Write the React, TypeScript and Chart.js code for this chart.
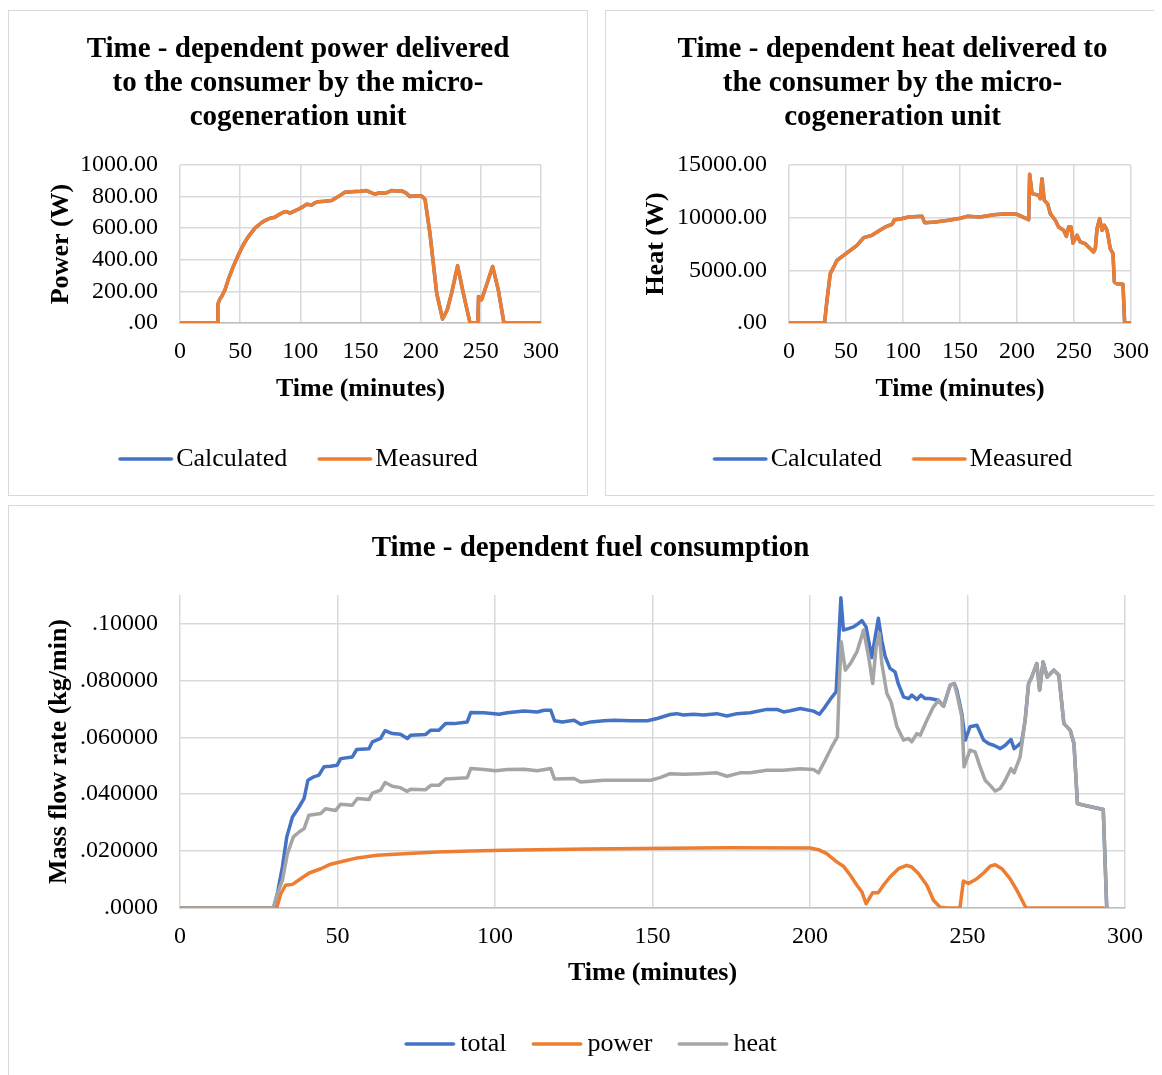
import React, { useEffect, useRef } from 'react';
import { Chart, registerables } from 'chart.js';

Chart.register(...registerables);

const SERIF = '"Liberation Serif", "Times New Roman", Times, serif';
const BLUE = '#4472C4';
const ORANGE = '#ED7D31';
const GRAY = '#A5A5A5';
const GRID = '#d9d9d9';

// ---------------- data ----------------
const powerYLabels = ['.00', '200.00', '400.00', '600.00', '800.00', '1000.00'];
const heatYLabels = ['.00', '5000.00', '10000.00', '15000.00'];
const fuelYLabels = ['.0000', '.020000', '.040000', '.060000', '.080000', '.10000'];

// Power delivered (W) vs time (min)
const powerTime = [0, 31.2, 31.5, 33, 34.6, 37.4, 40.1, 44.3, 48.5, 52.6, 56.8, 62.3, 67.9, 71, 74.8, 78.9, 82, 85.9, 88.5, 91.4, 95, 98.3, 102, 105.3, 109.4, 112, 114.9, 120, 126, 131.5, 137, 145.3, 150, 155.1, 162, 166, 170.3, 175.9, 180, 184.2, 188, 191.1, 196, 200.8, 203.6, 207.7, 213.3, 218.2, 222.1, 225.7, 230.7, 235.4, 240.9, 246.5, 247.5, 248.1, 250.6, 254.8, 259.8, 264.5, 269.2, 300];
const powerCalculated = [0, 0, 120, 150, 168, 210, 274, 358, 431, 495, 547, 600, 636, 650, 663, 669, 685, 701, 705, 695, 708, 720, 735, 752, 747, 760, 768, 770, 775, 800, 827, 832, 834, 838, 815, 825, 821, 838, 836, 836, 822, 800, 806, 804, 783, 568, 189, 25, 84, 189, 362, 189, 4, 0, 0, 168, 147, 242, 358, 210, 0, 0];
const powerMeasured = [0, 0, 120, 150, 168, 210, 274, 358, 431, 495, 547, 600, 636, 650, 663, 669, 685, 701, 705, 695, 708, 720, 735, 752, 747, 760, 768, 770, 775, 800, 827, 832, 834, 838, 815, 825, 821, 838, 836, 836, 822, 800, 806, 804, 783, 568, 189, 25, 84, 189, 362, 189, 4, 0, 0, 168, 147, 242, 358, 210, 0, 0];

// Heat delivered (W) vs time (min)
const heatTime = [0, 31.2, 33.3, 36.2, 40, 42.1, 47.9, 53.8, 59.6, 65.5, 72.8, 78.6, 84.5, 90.3, 92.6, 97.6, 104.9, 116.7, 119, 128.3, 140, 150.3, 156.1, 167.8, 179.5, 191.2, 200, 210.2, 211.1, 213.2, 219, 220.4, 221.9, 223.9, 226.8, 229.2, 233.6, 236.5, 240.9, 243.3, 245.3, 247.4, 249.1, 252.6, 255.5, 259.9, 264.3, 267.2, 268.7, 270.2, 272.5, 274.6, 276.6, 279, 281.8, 284.2, 285.4, 287.7, 293, 294.4, 300];
const heatCalculated = [0, 0, 2152, 4684, 5476, 5950, 6425, 6900, 7374, 8102, 8324, 8735, 9115, 9368, 9811, 9875, 10065, 10128, 9526, 9590, 9748, 9950, 10128, 10065, 10286, 10381, 10318, 9811, 14116, 12280, 12122, 11806, 13705, 11647, 11331, 10381, 9748, 9115, 8799, 8229, 9115, 9115, 7596, 8324, 7691, 7533, 7058, 6742, 7058, 8957, 9900, 8799, 9273, 8799, 7058, 6583, 3893, 3734, 3671, 0, 0];
const heatMeasured = [0, 0, 2152, 4684, 5476, 5950, 6425, 6900, 7374, 8102, 8324, 8735, 9115, 9368, 9811, 9875, 10065, 10128, 9526, 9590, 9748, 9950, 10128, 10065, 10286, 10381, 10318, 9811, 14116, 12280, 12122, 11806, 13705, 11647, 11331, 10381, 9748, 9115, 8799, 8229, 9115, 9115, 7596, 8324, 7691, 7533, 7058, 6742, 7058, 8957, 9900, 8799, 9273, 8799, 7058, 6583, 3893, 3734, 3671, 0, 0];

// Fuel consumption (kg/min) vs time (min)
const totalTime = [0, 29.8, 30.9, 32.5, 33.9, 35.7, 37.8, 39.4, 40.6, 42.5, 44.1, 45.7, 47.8, 49.9, 51, 54.7, 56.1, 60, 61.1, 63.7, 65.1, 67.4, 70, 72.2, 73.2, 78, 79.6, 82.2, 84.3, 87, 91.2, 92.3, 96.5, 101.3, 103.9, 109.2, 113.4, 115.6, 117.7, 118.9, 121.4, 125.1, 127.2, 130.4, 134.6, 137.8, 143.1, 148.4, 151.5, 155.6, 157.7, 159.8, 163, 166.2, 170.4, 173.6, 176.8, 181, 186.3, 189.5, 191.6, 193.7, 196.9, 201.1, 203, 204.8, 206.4, 208.3, 209.8, 210.6, 212.2, 213.8, 215.4, 216.5, 217.8, 219.6, 221.7, 222.8, 223.9, 225.4, 227, 228, 229.7, 231.3, 232.3, 233.9, 235.2, 236.6, 238.1, 240.8, 242.4, 244.5, 245.8, 246.6, 248.2, 249.3, 250.8, 253, 255.1, 256.7, 258.3, 260.4, 262, 263.8, 264.8, 266.2, 267.2, 268.3, 269.4, 270.4, 272, 272.9, 274, 275.3, 277.4, 279, 280.6, 282.6, 283.8, 284.9, 287, 290.2, 293.1, 294.2];
const totalValue = [0, 0, 0.005, 0.0144, 0.025, 0.032, 0.0355, 0.0385, 0.0449, 0.0461, 0.0467, 0.0496, 0.0498, 0.0502, 0.0525, 0.0531, 0.0557, 0.056, 0.0584, 0.0596, 0.0623, 0.0613, 0.0611, 0.0596, 0.0607, 0.061, 0.0625, 0.0625, 0.0648, 0.0648, 0.0654, 0.0687, 0.0686, 0.0681, 0.0686, 0.0692, 0.0689, 0.0695, 0.0695, 0.0658, 0.0654, 0.066, 0.0646, 0.0654, 0.0658, 0.066, 0.0658, 0.0658, 0.0666, 0.068, 0.0683, 0.0678, 0.0681, 0.0678, 0.0683, 0.0675, 0.0683, 0.0686, 0.0698, 0.0698, 0.0689, 0.0693, 0.0701, 0.0692, 0.0681, 0.0707, 0.0733, 0.076, 0.109, 0.0977, 0.0982, 0.0988, 0.1, 0.101, 0.0988, 0.088, 0.1018, 0.094, 0.0883, 0.0842, 0.083, 0.0789, 0.0742, 0.0736, 0.0748, 0.0733, 0.0748, 0.0736, 0.0736, 0.073, 0.0709, 0.0783, 0.0789, 0.0766, 0.0683, 0.059, 0.0637, 0.0642, 0.059, 0.0578, 0.0572, 0.056, 0.0572, 0.0592, 0.056, 0.0572, 0.0584, 0.066, 0.0789, 0.0812, 0.0859, 0.0766, 0.0865, 0.0812, 0.0836, 0.0818, 0.0648, 0.0625, 0.0578, 0.0367, 0.0361, 0.0353, 0.0346, 0];

const fuelPowerTime = [0, 30.7, 32, 33.5, 35.7, 38.3, 41, 44.7, 47.8, 52.1, 56.3, 62.6, 71.1, 81.7, 92.3, 102.9, 113.4, 129.3, 155.8, 173.6, 200, 202.7, 205.3, 208.5, 210.6, 212.8, 214.9, 216.5, 217.8, 219.9, 221.7, 223.3, 225.4, 228.1, 230.7, 232.3, 234.4, 237.1, 239.2, 241.3, 243.4, 247.6, 248.7, 250.3, 253, 255.1, 257.2, 258.8, 260.9, 263.5, 265.7, 268.6, 293.2];
const fuelPowerValue = [0, 0, 0.005, 0.008, 0.0083, 0.0103, 0.0123, 0.0138, 0.0154, 0.0165, 0.0176, 0.0185, 0.0191, 0.0197, 0.02, 0.0203, 0.0205, 0.0207, 0.021, 0.0212, 0.0211, 0.0205, 0.0191, 0.0162, 0.0147, 0.0115, 0.008, 0.0056, 0.0015, 0.0054, 0.0054, 0.008, 0.0109, 0.0138, 0.015, 0.0144, 0.0121, 0.008, 0.0027, 0.0003, 0, 0, 0.0095, 0.0086, 0.0103, 0.0123, 0.0147, 0.0152, 0.0138, 0.0103, 0.0062, 0, 0];

const fuelHeatTime = [0, 29.6, 30.9, 32.5, 34.1, 36, 37.8, 39.4, 40.9, 44.7, 46.2, 49.4, 51, 54.7, 56.3, 60, 61.1, 63.7, 65.1, 67.4, 70, 72, 73.2, 78, 79.6, 82.2, 84.3, 87, 91.2, 92.3, 96.5, 100.2, 103.9, 109.2, 113.4, 117.7, 118.9, 125.1, 127.2, 134.6, 143.1, 149.4, 152.4, 155.6, 159.8, 165.1, 170.4, 173.6, 177.8, 181, 186.3, 191.6, 196.9, 201.1, 202.7, 204.8, 206.9, 208.7, 209.3, 209.9, 211.2, 212.8, 214.9, 217, 218.6, 219.9, 221, 222, 222.8, 224.4, 225.7, 227.6, 229.7, 231.3, 232.3, 233.9, 235, 237.1, 239.2, 240.8, 242.4, 244.5, 245.8, 246.6, 248.2, 248.9, 250.8, 252.4, 254, 255.6, 257.2, 258.8, 260.4, 262, 263.8, 264.8, 266.7, 268.3, 269.4, 270.4, 272, 272.9, 274, 275.3, 277.4, 279, 280.6, 282.6, 283.8, 284.9, 287, 290.2, 293.1, 294.2];
const fuelHeatValue = [0, 0, 0.005, 0.0097, 0.0191, 0.025, 0.0267, 0.0279, 0.0326, 0.0332, 0.0349, 0.0343, 0.0365, 0.0361, 0.0385, 0.0381, 0.0404, 0.0414, 0.0441, 0.0428, 0.0423, 0.041, 0.0417, 0.0416, 0.0431, 0.0431, 0.0453, 0.0455, 0.0458, 0.049, 0.0487, 0.0482, 0.0487, 0.0488, 0.0482, 0.049, 0.0453, 0.0455, 0.0443, 0.0449, 0.0449, 0.0449, 0.0458, 0.0472, 0.047, 0.0472, 0.0475, 0.0463, 0.0475, 0.0475, 0.0484, 0.0484, 0.0489, 0.0487, 0.0475, 0.0519, 0.0566, 0.0601, 0.0789, 0.0936, 0.0836, 0.0859, 0.09, 0.0977, 0.0883, 0.0789, 0.0918, 0.0965, 0.0859, 0.0754, 0.0725, 0.0637, 0.059, 0.0596, 0.0584, 0.0613, 0.0607, 0.066, 0.0707, 0.073, 0.0709, 0.0783, 0.0789, 0.0754, 0.0672, 0.0496, 0.0555, 0.0549, 0.0496, 0.0449, 0.0431, 0.0411, 0.042, 0.0449, 0.049, 0.0475, 0.0531, 0.066, 0.0789, 0.0812, 0.0859, 0.0766, 0.0865, 0.0812, 0.0836, 0.0818, 0.0648, 0.0625, 0.0578, 0.0367, 0.0361, 0.0353, 0.0346, 0];

// ---------------- helpers ----------------
function legendLine(color: string, lineLen: number, boxW: number, thick: number) {
  const half = Math.ceil(Math.max(boxW / 2, lineLen - boxW / 2)) + 2;
  const c = document.createElement('canvas');
  c.width = half * 2;
  c.height = 8;
  const ctx = c.getContext('2d')!;
  ctx.strokeStyle = color;
  ctx.lineWidth = thick;
  ctx.lineCap = 'round';
  const start = half - boxW / 2;
  ctx.beginPath();
  ctx.moveTo(start + thick / 2, 4);
  ctx.lineTo(start + lineLen - thick / 2, 4);
  ctx.stroke();
  return c;
}

type DS = { label: string; color: string; xs: number[]; ys: number[]; order: number };
type Spec = {
  title: string[];
  titlePadTop: number;
  titlePadBottom: number;
  datasets: DS[];
  lineWidth: number;
  yMax: number;
  yStep: number;
  yLabels: string[];
  yTitle: string;
  yAxisWidth: number;
  yTitlePad: number;
  rightWidth: number;
  xAxisHeight: number;
  xTitlePadBottom: number;
  legendPadding: number;
  legendBoxWidth: number;
  legendLineLen: number;
  layoutBottom: number;
};

function buildConfig(s: Spec): any {
  const images = s.datasets.map((d) => legendLine(d.color, s.legendLineLen, s.legendBoxWidth, 3.5));
  return {
    type: 'line',
    data: {
      datasets: s.datasets.map((d) => ({
        label: d.label,
        data: d.xs.map((x, i) => ({ x, y: d.ys[i] })),
        borderColor: d.color,
        backgroundColor: d.color,
        borderWidth: s.lineWidth,
        pointRadius: 0,
        pointHoverRadius: 0,
        tension: 0,
        fill: false,
        order: d.order,
        borderJoinStyle: 'round',
        borderCapStyle: 'round',
      })),
    },
    options: {
      responsive: false,
      animation: false,
      devicePixelRatio: 1,
      events: [],
      layout: { padding: { left: 0, right: 0, top: 0, bottom: s.layoutBottom } },
      plugins: {
        tooltip: { enabled: false },
        title: {
          display: true,
          text: s.title,
          color: '#000',
          font: { family: SERIF, size: 29, weight: 'bold', lineHeight: '34px' },
          padding: { top: s.titlePadTop, bottom: s.titlePadBottom },
        },
        legend: {
          display: true,
          position: 'bottom',
          labels: {
            usePointStyle: true,
            pointStyleWidth: s.legendBoxWidth,
            padding: s.legendPadding,
            color: '#000',
            font: { family: SERIF, size: 26 },
            generateLabels: (chart: any) => {
              const items = Chart.defaults.plugins.legend.labels.generateLabels(chart);
              items.sort((a: any, b: any) => a.datasetIndex - b.datasetIndex);
              return items.map((it: any) => ({ ...it, pointStyle: images[it.datasetIndex], lineWidth: 0 }));
            },
          },
        },
      },
      scales: {
        x: {
          type: 'linear',
          min: 0,
          max: 300,
          afterFit: (sc: any) => {
            sc.height = s.xAxisHeight;
          },
          ticks: {
            stepSize: 50,
            color: '#000',
            padding: 14,
            maxRotation: 0,
            autoSkip: false,
            font: { family: SERIF, size: 24 },
          },
          grid: { color: GRID, lineWidth: 1.5, drawTicks: false },
          border: { color: '#bfbfbf', width: 1.5 },
          title: {
            display: true,
            text: 'Time (minutes)',
            color: '#000',
            font: { family: SERIF, size: 26, weight: 'bold' },
            padding: { top: 0, bottom: s.xTitlePadBottom },
          },
        },
        y: {
          type: 'linear',
          position: 'left',
          min: 0,
          max: s.yMax,
          afterFit: (sc: any) => {
            sc.width = s.yAxisWidth;
          },
          ticks: {
            stepSize: s.yStep,
            includeBounds: false,
            autoSkip: false,
            color: '#000',
            padding: 22,
            font: { family: SERIF, size: 24 },
            callback: (_v: any, i: number) => s.yLabels[i],
          },
          grid: { color: GRID, lineWidth: 1.5, drawTicks: false },
          border: { display: false },
          title: {
            display: true,
            text: s.yTitle,
            color: '#000',
            font: { family: SERIF, size: 26, weight: 'bold' },
            padding: { top: s.yTitlePad, bottom: 0 },
          },
        },
        yPad: {
          axis: 'y',
          type: 'linear',
          position: 'right',
          display: true,
          afterFit: (sc: any) => {
            sc.width = s.rightWidth;
          },
          ticks: { display: false },
          grid: { display: false, drawTicks: false },
          border: { display: false },
        },
      },
    },
  };
}

function ChartCanvas({ width, height, spec }: { width: number; height: number; spec: Spec }) {
  const ref = useRef<HTMLCanvasElement>(null);
  useEffect(() => {
    const chart = new Chart(ref.current as HTMLCanvasElement, buildConfig(spec));
    return () => chart.destroy();
  }, []);
  return <canvas ref={ref} width={width} height={height} style={{ display: 'block', width, height }} />;
}

const powerSpec: Spec = {
  title: ['Time - dependent power delivered', 'to the consumer by the micro-', 'cogeneration unit'],
  titlePadTop: 22,
  titlePadBottom: 30,
  datasets: [
    { label: 'Calculated', color: BLUE, xs: powerTime, ys: powerCalculated, order: 1 },
    { label: 'Measured', color: ORANGE, xs: powerTime, ys: powerMeasured, order: 0 },
  ],
  lineWidth: 3.5,
  yMax: 1000,
  yStep: 200,
  yLabels: powerYLabels,
  yTitle: 'Power (W)',
  yAxisWidth: 171,
  yTitlePad: 37,
  rightWidth: 46,
  xAxisHeight: 93,
  xTitlePadBottom: 11,
  legendPadding: 30,
  legendBoxWidth: 45,
  legendLineLen: 55,
  layoutBottom: 13,
};

const heatSpec: Spec = {
  title: ['Time - dependent heat delivered to', 'the consumer by the micro-', 'cogeneration unit'],
  titlePadTop: 22,
  titlePadBottom: 30,
  datasets: [
    { label: 'Calculated', color: BLUE, xs: heatTime, ys: heatCalculated, order: 1 },
    { label: 'Measured', color: ORANGE, xs: heatTime, ys: heatMeasured, order: 0 },
  ],
  lineWidth: 3.5,
  yMax: 15000,
  yStep: 5000,
  yLabels: heatYLabels,
  yTitle: 'Heat (W)',
  yAxisWidth: 183,
  yTitlePad: 35,
  rightWidth: 48,
  xAxisHeight: 93,
  xTitlePadBottom: 11,
  legendPadding: 30,
  legendBoxWidth: 45,
  legendLineLen: 55,
  layoutBottom: 13,
};

const fuelSpec: Spec = {
  title: ['Time - dependent fuel consumption'],
  titlePadTop: 26,
  titlePadBottom: 29,
  datasets: [
    { label: 'total', color: BLUE, xs: totalTime, ys: totalValue, order: 2 },
    { label: 'power', color: ORANGE, xs: fuelPowerTime, ys: fuelPowerValue, order: 1 },
    { label: 'heat', color: GRAY, xs: fuelHeatTime, ys: fuelHeatValue, order: 0 },
  ],
  lineWidth: 3.5,
  yMax: 0.11,
  yStep: 0.02,
  yLabels: fuelYLabels,
  yTitle: 'Mass flow rate (kg/min)',
  yAxisWidth: 171,
  yTitlePad: 35,
  rightWidth: 47,
  xAxisHeight: 98,
  xTitlePadBottom: 17,
  legendPadding: 25,
  legendBoxWidth: 43,
  legendLineLen: 51,
  layoutBottom: 19,
};

const panel: React.CSSProperties = {
  position: 'absolute',
  border: '1px solid #d9d9d9',
  background: '#fff',
};

export default function App() {
  return (
    <div style={{ position: 'relative', width: 1154, height: 1067, overflow: 'hidden', background: '#fff' }}>
      <div style={{ ...panel, left: 0, top: 2, width: 578, height: 484 }}>
        <ChartCanvas width={578} height={484} spec={powerSpec} />
      </div>
      <div style={{ ...panel, left: 597, top: 2, width: 573, height: 484 }}>
        <ChartCanvas width={573} height={484} spec={heatSpec} />
      </div>
      <div style={{ ...panel, left: 0, top: 497, width: 1163, height: 580 }}>
        <ChartCanvas width={1163} height={580} spec={fuelSpec} />
      </div>
    </div>
  );
}
